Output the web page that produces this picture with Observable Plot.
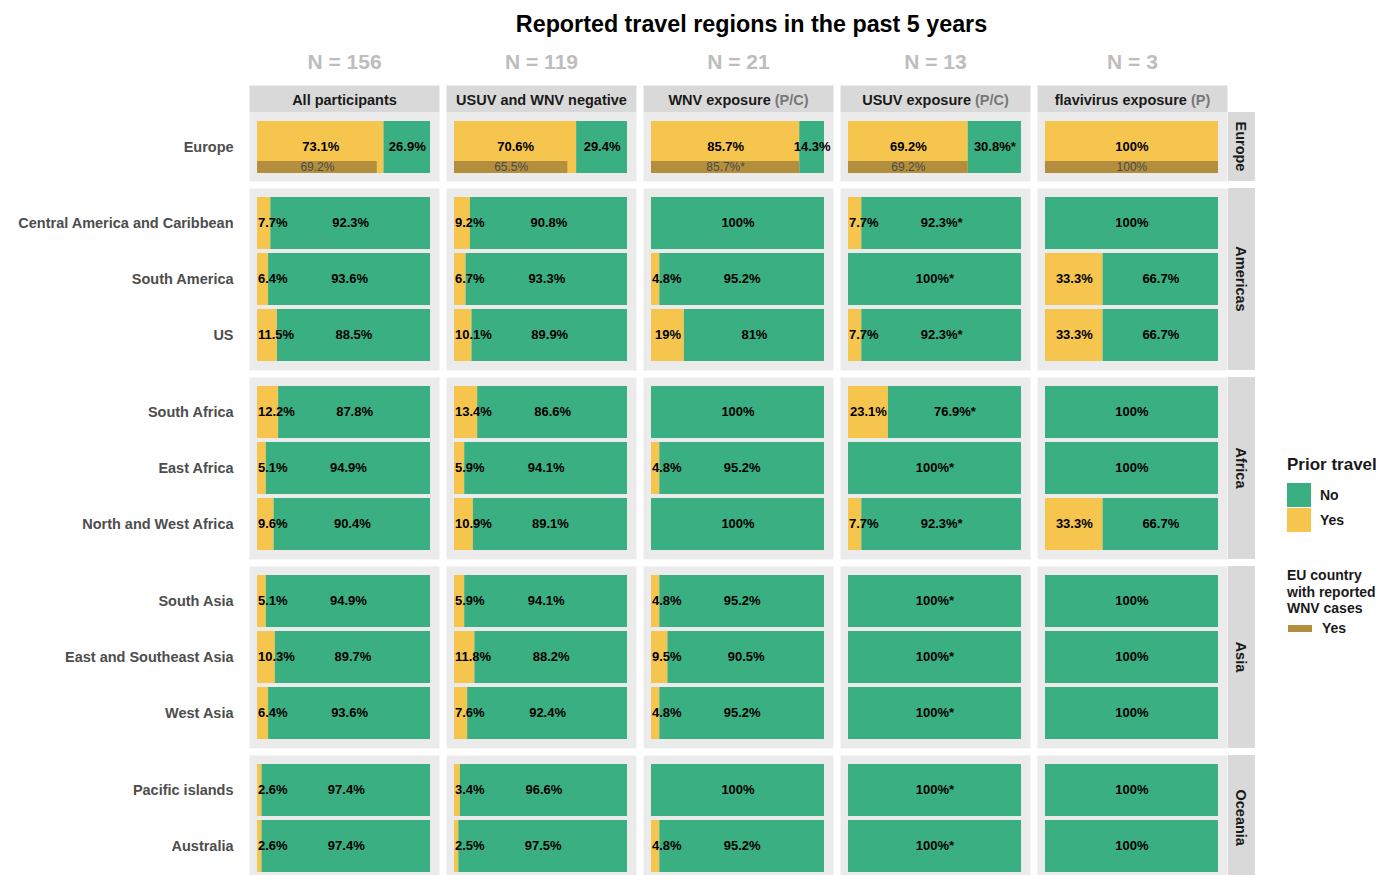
<!DOCTYPE html>
<html>
<head>
<meta charset="utf-8">
<script src="https://cdn.jsdelivr.net/npm/d3@7"></script>
<script src="https://cdn.jsdelivr.net/npm/@observablehq/plot@0.6"></script>
<style>
  html, body { margin: 0; padding: 0; background: #fff; }
  body { font-family: "Liberation Sans", Arial, Helvetica, sans-serif; }
  #chart { position: relative; width: 1380px; height: 875px; overflow: hidden; }
  #chart svg { position: absolute; left: 0; }
  .title { position: absolute; left: 248px; width: 1007px; top: 9px; text-align: center;
           font-size: 23.3px; font-weight: bold; line-height: 30px; color: #000; }
  .legend { position: absolute; left: 1287px; font-weight: bold; color: #1a1a1a; }
  .swatch { position: absolute; }
</style>
</head>
<body>
<div id="chart">
  <div class="title">Reported travel regions in the past 5 years</div>
  <div class="legend" style="top:454px; font-size:17px; line-height:22px;">Prior travel</div>
  <div class="swatch" style="left:1287px; top:483px; width:24px; height:24px; background:#3aaf82;"></div>
  <div class="swatch" style="left:1287px; top:508px; width:24px; height:24px; background:#f6c54e;"></div>
  <div class="legend" style="left:1320px; top:486px; font-size:14px; line-height:18px;">No</div>
  <div class="legend" style="left:1320px; top:511px; font-size:14px; line-height:18px;">Yes</div>
  <div class="legend" style="top:567px; font-size:14px; line-height:16.5px;">EU country<br>with reported<br>WNV cases</div>
  <div class="swatch" style="left:1288px; top:625px; width:24px; height:7px; background:#b38f3d;"></div>
  <div class="legend" style="left:1322px; top:619px; font-size:14px; line-height:18px;">Yes</div>
</div>
<script>
// ---------------- data ----------------
const groups = ["All participants", "USUV and WNV negative", "WNV exposure (P/C)", "USUV exposure (P/C)", "flavivirus exposure (P)"];
const groupN = [156, 119, 21, 13, 3];

const continents = ["Europe", "Americas", "Africa", "Asia", "Oceania"];
const regions = ["Europe", "Central America and Caribbean", "South America", "US",
  "South Africa", "East Africa", "North and West Africa",
  "South Asia", "East and Southeast Asia", "West Asia",
  "Pacific islands", "Australia"];
const regionContinent = ["Europe", "Americas", "Americas", "Americas",
  "Africa", "Africa", "Africa", "Asia", "Asia", "Asia", "Oceania", "Oceania"];

// % travelled (Yes), per group, in region order
const yesAll   = [73.1, 7.7, 6.4, 11.5, 12.2, 5.1, 9.6, 5.1, 10.3, 6.4, 2.6, 2.6];
const yesNeg   = [70.6, 9.2, 6.7, 10.1, 13.4, 5.9, 10.9, 5.9, 11.8, 7.6, 3.4, 2.5];
const yesWNV   = [85.7, 0, 4.8, 19, 0, 4.8, 0, 4.8, 9.5, 4.8, 0, 4.8];
const yesUSUV  = [69.2, 7.7, 0, 7.7, 23.1, 0, 7.7, 0, 0, 0, 0, 0];
const yesFlavi = [100, 0, 33.3, 33.3, 0, 0, 33.3, 0, 0, 0, 0, 0];

// % not travelled (No)
const noAll   = [26.9, 92.3, 93.6, 88.5, 87.8, 94.9, 90.4, 94.9, 89.7, 93.6, 97.4, 97.4];
const noNeg   = [29.4, 90.8, 93.3, 89.9, 86.6, 94.1, 89.1, 94.1, 88.2, 92.4, 96.6, 97.5];
const noWNV   = [14.3, 100, 95.2, 81, 100, 95.2, 100, 95.2, 90.5, 95.2, 100, 95.2];
const noUSUV  = [30.8, 92.3, 100, 92.3, 76.9, 100, 92.3, 100, 100, 100, 100, 100];
const noFlavi = [0, 100, 66.7, 66.7, 100, 100, 66.7, 100, 100, 100, 100, 100];

// significance flags on the "No" labels
const starAll   = [0,0,0,0,0,0,0,0,0,0,0,0];
const starNeg   = [0,0,0,0,0,0,0,0,0,0,0,0];
const starWNV   = [0,0,0,0,0,0,0,0,0,0,0,0];
const starUSUV  = [1,1,1,1,1,1,1,1,1,1,1,1];
const starFlavi = [0,0,0,0,0,0,0,0,0,0,0,0];

// Europe: travelled to an EU country with reported WNV cases
const euYes  = [69.2, 65.5, 85.7, 69.2, 100];
const euStar = [0, 0, 1, 0, 0];

// ---------------- build tables ----------------
const yesBy = [yesAll, yesNeg, yesWNV, yesUSUV, yesFlavi];
const noBy = [noAll, noNeg, noWNV, noUSUV, noFlavi];
const starBy = [starAll, starNeg, starWNV, starUSUV, starFlavi];

const rows = [];
groups.forEach((g, gi) => {
  regions.forEach((r, ri) => {
    rows.push({group: g, region: r, continent: regionContinent[ri],
      yes: yesBy[gi][ri], no: noBy[gi][ri], star: !!starBy[gi][ri]});
  });
});
const euRows = groups.map((g, gi) => ({group: g, region: "Europe", eu: euYes[gi], star: !!euStar[gi]}));
const groupRows = groups.map((g, gi) => ({group: g, n: groupN[gi]}));

const GREEN = "#3aaf82", YELLOW = "#f6c54e", BROWN = "#b38f3d";
const FONT = "'Liberation Sans', Arial, Helvetica, sans-serif";
const W = 1380, ML = 248, MR = 152, STRIP = 27;
const STEP = 56.5;
const pct = v => `${v}%`;
const fxOpts = {domain: groups, paddingInner: 0.038, paddingOuter: 0, axis: null, label: null};
// does the "Yes" label fit centred in its segment? (approx. 173px per 100%)
const fitsCentered = d => (d.yes * 1.73) / 2 >= pct(d.yes).length * 3.7;

const chart = document.getElementById("chart");

// ---------------- header ----------------
const header = Plot.plot({
  width: W, height: 72, marginTop: 45, marginBottom: 0, marginLeft: ML, marginRight: MR,
  style: {fontFamily: FONT, background: "transparent", overflow: "visible"},
  fx: fxOpts,
  marks: [
    Plot.frame({fill: "#d9d9d9", stroke: "none"}),
    Plot.text(groupRows, {fx: "group", text: "group", frameAnchor: "middle", dy: 1,
      fontSize: 14.5, fontWeight: "bold", fill: "#1a1a1a"}),
    Plot.text(groupRows, {fx: "group", text: d => `N = ${d.n}`, frameAnchor: "top",
      lineAnchor: "middle", dy: -23, fontSize: 21, fontWeight: "bold", fill: "#bdbdbd"})
  ]
});
d3.select(header).selectAll("text").each(function () {
  const t = this.textContent;
  const m = t.match(/^(.*?) (\(.+\))$/);
  if (m) {
    this.textContent = "";
    d3.select(this).append("tspan").text(m[1] + " ");
    d3.select(this).append("tspan").attr("fill", "#777").text(m[2]);
  }
});
header.style.top = "40px";
chart.appendChild(header);

// ---------------- continent panels ----------------
let yPos = 112;
continents.forEach(cont => {
  const regs = regions.filter((r, i) => regionContinent[i] === cont);
  const data = rows.filter(d => d.continent === cont);
  const n = regs.length;
  const height = STEP * (n - 0.08 + 0.3);
  const marks = [
    Plot.frame({fill: "#ebebeb", stroke: "none"}),
    Plot.barX(data.filter(d => d.yes > 0), {fx: "group", y: "region", x1: d => 0, x2: "yes", fill: YELLOW}),
    Plot.barX(data.filter(d => d.no > 0), {fx: "group", y: "region", x1: "yes", x2: d => d.yes + d.no, fill: GREEN})
  ];
  if (cont === "Europe") {
    marks.push(
      Plot.barX(euRows, {fx: "group", y: "region", x1: d => 0, x2: "eu", fill: BROWN, insetTop: 40}),
      Plot.text(euRows, {fx: "group", y: "region", x: d => d.eu / 2, dy: 19.5,
        text: d => pct(d.eu) + (d.star ? "*" : ""), fontSize: 12, fill: "#4a4a4a", fontWeight: "normal"})
    );
  }
  marks.push(
    Plot.text(data.filter(d => d.yes > 0 && fitsCentered(d)), {fx: "group", y: "region", x: d => d.yes / 2,
      dy: -0.5, text: d => pct(d.yes), fontSize: 13, fontWeight: "bold", fill: "#000"}),
    Plot.text(data.filter(d => d.yes > 0 && !fitsCentered(d)), {fx: "group", y: "region", x: d => 0,
      dy: -0.5, textAnchor: "start", dx: 0.5, text: d => pct(d.yes), fontSize: 13, fontWeight: "bold", fill: "#000"}),
    Plot.text(data.filter(d => d.no > 0), {fx: "group", y: "region", x: d => d.yes + d.no / 2,
      dy: -0.5, text: d => pct(d.no) + (d.star ? "*" : ""), fontSize: 13, fontWeight: "bold", fill: "#000"})
  );
  const p = Plot.plot({
    width: W, height, marginTop: 0, marginBottom: 0, marginLeft: ML, marginRight: MR,
    style: {fontFamily: FONT, fontSize: "14.5px", fontWeight: "bold", color: "#4d4d4d",
      background: "transparent", overflow: "visible"},
    fx: fxOpts,
    x: {domain: [0, 100], insetLeft: 8, insetRight: 9, axis: null},
    y: {domain: regs, paddingInner: 0.08, paddingOuter: 0.15, axis: "left",
      tickSize: 0, tickPadding: 16, label: null},
    marks
  });
  // facet strip on the right
  const s = d3.select(p);
  s.append("rect").attr("x", W - MR).attr("y", 0).attr("width", STRIP).attr("height", height)
    .attr("fill", "#d9d9d9");
  s.append("text").attr("transform", `translate(${W - MR + STRIP / 2},${height / 2}) rotate(90)`)
    .attr("text-anchor", "middle").attr("dominant-baseline", "central")
    .attr("font-size", 14.5).attr("font-weight", "bold").attr("fill", "#1a1a1a")
    .attr("font-family", FONT).text(cont);
  p.style.top = yPos + "px";
  chart.appendChild(p);
  yPos += height + 7;
});
</script>
</body>
</html>
